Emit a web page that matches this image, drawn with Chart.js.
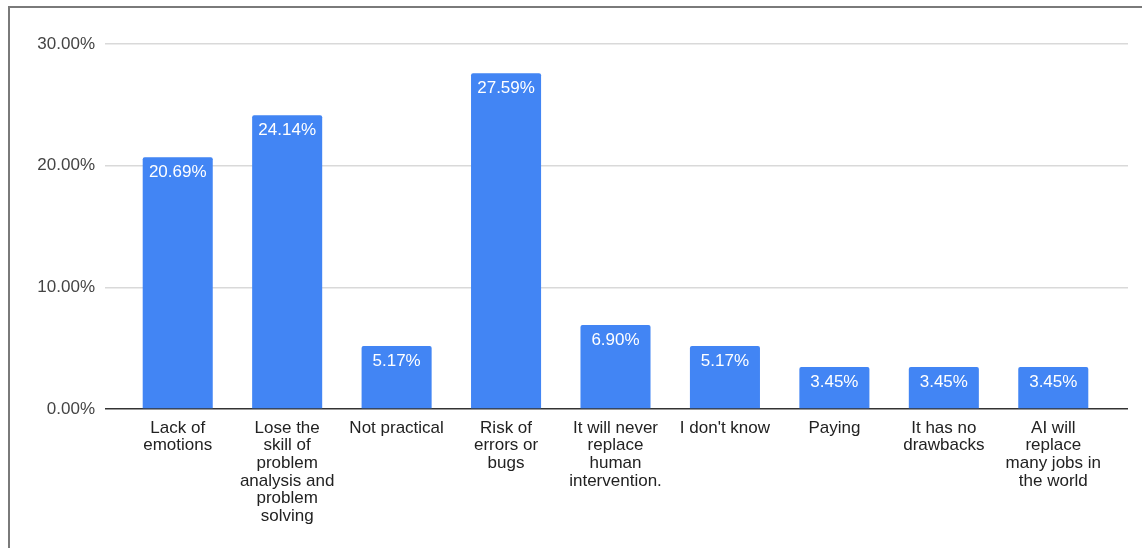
<!DOCTYPE html>
<html>
<head>
<meta charset="utf-8">
<script src="https://cdn.jsdelivr.net/npm/chart.js@4"></script>
<style>
  html, body { margin: 0; padding: 0; background: #fff; }
  #frame {
    position: absolute; left: 8px; top: 6px;
    width: 1132px; height: 540px;
    border-left: 2px solid #7a7a7a; border-top: 2px solid #7a7a7a;
  }
  #wrap { width: 1132px; height: 540px; }
</style>
</head>
<body>
<div id="frame"><div id="wrap"><canvas id="drawbacks"></canvas></div></div>
<script>
const categories = [
  ['Lack of', 'emotions'],
  ['Lose the', 'skill of', 'problem', 'analysis and', 'problem', 'solving'],
  ['Not practical'],
  ['Risk of', 'errors or', 'bugs'],
  ['It will never', 'replace', 'human', 'intervention.'],
  ["I don't know"],
  ['Paying'],
  ['It has no', 'drawbacks'],
  ['AI will', 'replace', 'many jobs in', 'the world']
];
const percentages = [20.69, 24.14, 5.17, 27.59, 6.90, 5.17, 3.45, 3.45, 3.45];
const yTicks = [0, 10, 20, 30];

const gridColor = function (ctx) {
  return ctx.tick && ctx.tick.value === 0 ? '#333333' : '#d9d9d9';
};

// white value labels inside the top of each bar
const valueLabels = {
  id: 'valueLabels',
  afterDatasetsDraw(chart) {
    const ctx = chart.ctx;
    const meta = chart.getDatasetMeta(0);
    ctx.save();
    ctx.fillStyle = '#ffffff';
    ctx.font = '17px "Liberation Sans", Arial, sans-serif';
    ctx.textAlign = 'center';
    ctx.textBaseline = 'middle';
    meta.data.forEach(function (bar, i) {
      ctx.fillText(percentages[i].toFixed(2) + '%', bar.x, bar.y + 15);
    });
    ctx.restore();
  }
};

new Chart(
  document.getElementById('drawbacks'),
  {
    type: 'bar',
    plugins: [valueLabels],
    options: {
      maintainAspectRatio: false,
      animation: false,
      layout: {
        padding: { top: 36, right: 14, bottom: 8, left: 0 }
      },
      plugins: {
        legend: { display: false },
        tooltip: { enabled: false }
      },
      scales: {
        x: {
          grid: { display: false },
          border: { display: false },
          afterFit: function (s) { s.height = 131; },
          ticks: {
            autoSkip: false,
            maxRotation: 0,
            minRotation: 0,
            padding: 2,
            color: '#222222',
            font: { family: '"Liberation Sans", Arial, sans-serif', size: 17, lineHeight: 1.04 }
          }
        },
        y: {
          min: yTicks[0],
          max: yTicks[yTicks.length - 1],
          afterFit: function (s) { s.width = 113; },
          afterBuildTicks: function (s) { s.ticks = yTicks.map(v => ({ value: v })); },
          border: { display: false },
          grid: {
            color: gridColor,
            tickColor: gridColor,
            lineWidth: 1.5,
            tickLength: 18
          },
          ticks: {
            padding: 10,
            color: '#444444',
            font: { family: '"Liberation Sans", Arial, sans-serif', size: 17 },
            callback: function (v) { return v.toFixed(2) + '%'; }
          }
        },
        yRight: {
          position: 'right',
          min: yTicks[0],
          max: yTicks[yTicks.length - 1],
          afterBuildTicks: function (s) { s.ticks = yTicks.map(v => ({ value: v })); },
          border: { display: false },
          grid: {
            drawOnChartArea: false,
            color: gridColor,
            tickColor: gridColor,
            lineWidth: 1.5,
            tickLength: 20
          },
          ticks: { display: false }
        }
      }
    },
    data: {
      labels: categories,
      datasets: [
        {
          label: 'Share',
          data: percentages,
          backgroundColor: '#4285f4',
          borderRadius: { topLeft: 2, topRight: 2 },
          borderSkipped: 'bottom',
          barPercentage: 0.8,
          categoryPercentage: 0.8
        }
      ]
    }
  }
);
</script>
</body>
</html>
